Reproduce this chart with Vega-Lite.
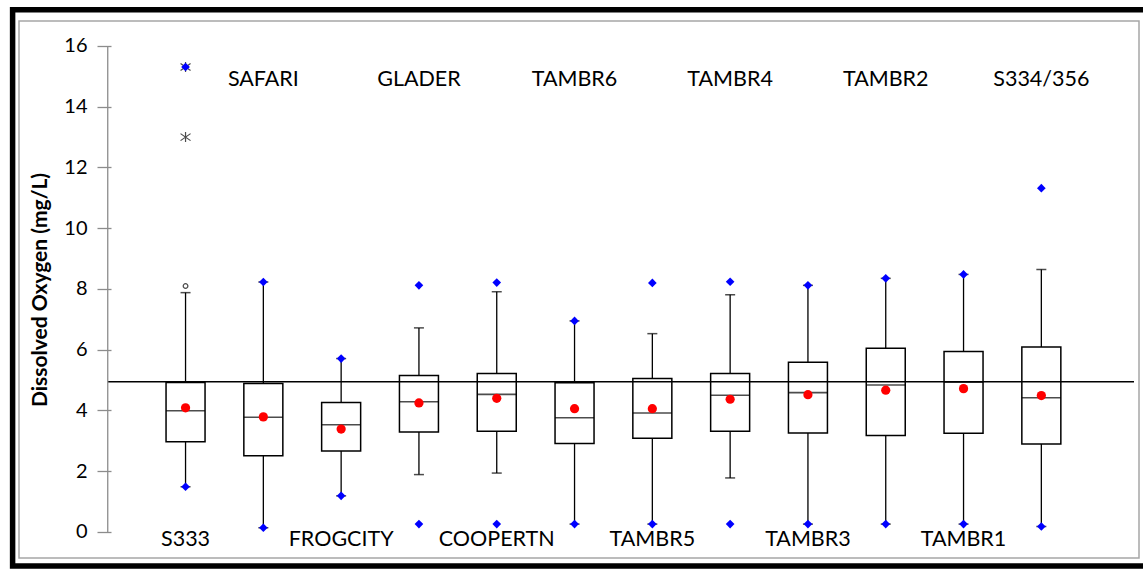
{
  "$schema": "https://vega.github.io/schema/vega-lite/v6.json",
  "autosize": {"type": "none"},
  "width": 1120,
  "height": 537,
  "padding": {"left": 19, "top": 21, "right": 4, "bottom": 11},
  "background": "white",
  "config": {
    "view": {"stroke": "#A6A6A6", "strokeWidth": 1.5},
    "font": "Lato",
    "axisY": {
      "offset": -92, "tickSize": 14, "domain": false, "grid": false,
      "tickColor": "#8C8C8C", "tickWidth": 1.3,
      "labelFont": "Lato", "labelFontSize": 20, "labelColor": "black", "labelPadding": 10,
      "titleFont": "Lato", "titleFontSize": 21, "titleFontWeight": "bold", "titleColor": "black", "titlePadding": 13
    }
  },
  "datasets": {
    "boxes": [
      {"site": "S333", "pos": 1, "q1": 2.97, "median": 3.99, "q3": 4.92, "mean": 4.09, "wlo": 1.49, "whi": 7.88, "min": 1.49, "max": 15.31},
      {"site": "SAFARI", "pos": 2, "q1": 2.51, "median": 3.78, "q3": 4.89, "mean": 3.79, "wlo": 0.14, "whi": 8.23, "min": 0.14, "max": 8.23},
      {"site": "FROGCITY", "pos": 3, "q1": 2.67, "median": 3.53, "q3": 4.26, "mean": 3.39, "wlo": 1.19, "whi": 5.71, "min": 1.19, "max": 5.71},
      {"site": "GLADER", "pos": 4, "q1": 3.29, "median": 4.29, "q3": 5.15, "mean": 4.25, "wlo": 1.89, "whi": 6.72, "min": 0.26, "max": 8.12},
      {"site": "COOPERTN", "pos": 5, "q1": 3.32, "median": 4.53, "q3": 5.22, "mean": 4.40, "wlo": 1.94, "whi": 7.91, "min": 0.26, "max": 8.21},
      {"site": "TAMBR6", "pos": 6, "q1": 2.91, "median": 3.76, "q3": 4.91, "mean": 4.06, "wlo": 0.26, "whi": 6.95, "min": 0.26, "max": 6.95},
      {"site": "TAMBR5", "pos": 7, "q1": 3.09, "median": 3.92, "q3": 5.05, "mean": 4.06, "wlo": 0.26, "whi": 6.53, "min": 0.26, "max": 8.20},
      {"site": "TAMBR4", "pos": 8, "q1": 3.32, "median": 4.50, "q3": 5.22, "mean": 4.37, "wlo": 1.78, "whi": 7.81, "min": 0.26, "max": 8.24},
      {"site": "TAMBR3", "pos": 9, "q1": 3.26, "median": 4.59, "q3": 5.59, "mean": 4.52, "wlo": 0.26, "whi": 8.12, "min": 0.26, "max": 8.12},
      {"site": "TAMBR2", "pos": 10, "q1": 3.18, "median": 4.84, "q3": 6.05, "mean": 4.67, "wlo": 0.26, "whi": 8.35, "min": 0.26, "max": 8.35},
      {"site": "TAMBR1", "pos": 11, "q1": 3.25, "median": 4.93, "q3": 5.94, "mean": 4.72, "wlo": 0.26, "whi": 8.48, "min": 0.26, "max": 8.48},
      {"site": "S334/356", "pos": 12, "q1": 2.90, "median": 4.42, "q3": 6.09, "mean": 4.49, "wlo": 0.18, "whi": 8.64, "min": 0.18, "max": 11.32}
    ],
    "outliers": [
      {"site": "S333", "pos": 1, "value": 8.1, "kind": "mild"},
      {"site": "S333", "pos": 1, "value": 13.0, "kind": "extreme"},
      {"site": "S333", "pos": 1, "value": 15.31, "kind": "extreme"}
    ],
    "refs": [
      {"name": "standard", "value": 4.95}
    ]
  },
  "layer": [
    {
      "data": {"name": "refs"},
      "mark": {"type": "rect", "filled": false, "stroke": "black", "strokeWidth": 5.5, "clip": false},
      "encoding": {
        "x": {"datum": -1.2229, "type": "quantitative", "scale": {"domain": [-1.0764, 13.191], "nice": false, "zero": false}, "axis": null},
        "x2": {"datum": 13.45},
        "y": {"datum": 17.19, "type": "quantitative", "scale": {"domain": [-0.856, 16.823], "nice": false, "zero": false}, "title": "Dissolved Oxygen (mg/L)", "axis": {"values": [0, 2, 4, 6, 8, 10, 12, 14, 16]}},
        "y2": {"datum": -1.12}
      }
    },
    {
      "data": {"name": "boxes"},
      "mark": {"type": "rule", "stroke": "black", "strokeWidth": 1.3},
      "encoding": {"x": {"field": "pos", "type": "quantitative"}, "y": {"field": "q3", "type": "quantitative", "title": "Dissolved Oxygen (mg/L)", "axis": {"values": [0, 2, 4, 6, 8, 10, 12, 14, 16]}}, "y2": {"field": "whi"}}
    },
    {
      "data": {"name": "boxes"},
      "mark": {"type": "rule", "stroke": "black", "strokeWidth": 1.3},
      "encoding": {"x": {"field": "pos", "type": "quantitative"}, "y": {"field": "wlo", "type": "quantitative", "title": "Dissolved Oxygen (mg/L)", "axis": {"values": [0, 2, 4, 6, 8, 10, 12, 14, 16]}}, "y2": {"field": "q1"}}
    },
    {
      "data": {"name": "boxes"},
      "mark": {"type": "tick", "orient": "horizontal", "size": 10, "thickness": 1.5, "color": "black"},
      "encoding": {"x": {"field": "pos", "type": "quantitative"}, "y": {"field": "whi", "type": "quantitative", "title": "Dissolved Oxygen (mg/L)", "axis": {"values": [0, 2, 4, 6, 8, 10, 12, 14, 16]}}}
    },
    {
      "data": {"name": "boxes"},
      "mark": {"type": "tick", "orient": "horizontal", "size": 10, "thickness": 1.5, "color": "black"},
      "encoding": {"x": {"field": "pos", "type": "quantitative"}, "y": {"field": "wlo", "type": "quantitative", "title": "Dissolved Oxygen (mg/L)", "axis": {"values": [0, 2, 4, 6, 8, 10, 12, 14, 16]}}}
    },
    {
      "data": {"name": "boxes"},
      "mark": {"type": "bar", "width": 39, "fill": "white", "stroke": "black", "strokeWidth": 1.5},
      "encoding": {"x": {"field": "pos", "type": "quantitative"}, "y": {"field": "q1", "type": "quantitative", "title": "Dissolved Oxygen (mg/L)", "axis": {"values": [0, 2, 4, 6, 8, 10, 12, 14, 16]}}, "y2": {"field": "q3"}}
    },
    {
      "data": {"name": "boxes"},
      "mark": {"type": "tick", "orient": "horizontal", "size": 39, "thickness": 1.6, "color": "black"},
      "encoding": {"x": {"field": "pos", "type": "quantitative"}, "y": {"field": "median", "type": "quantitative", "title": "Dissolved Oxygen (mg/L)", "axis": {"values": [0, 2, 4, 6, 8, 10, 12, 14, 16]}}}
    },
    {
      "data": {"name": "refs"},
      "mark": {"type": "rule", "stroke": "black", "strokeWidth": 1.5},
      "encoding": {
        "x": {"datum": 0, "type": "quantitative"},
        "x2": {"datum": 13.191},
        "y": {"field": "value", "type": "quantitative", "title": "Dissolved Oxygen (mg/L)", "axis": {"values": [0, 2, 4, 6, 8, 10, 12, 14, 16]}}
      }
    },
    {
      "data": {"name": "refs"},
      "mark": {"type": "rule", "stroke": "#8C8C8C", "strokeWidth": 1.3},
      "encoding": {
        "x": {"datum": 0, "type": "quantitative"},
        "y": {"datum": 0, "type": "quantitative", "title": "Dissolved Oxygen (mg/L)", "axis": {"values": [0, 2, 4, 6, 8, 10, 12, 14, 16]}},
        "y2": {"datum": 16}
      }
    },
    {
      "data": {"name": "outliers"},
      "transform": [{"filter": "datum.kind === 'mild'"}],
      "mark": {"type": "point", "shape": "circle", "filled": false, "stroke": "black", "strokeWidth": 1.2, "size": 22},
      "encoding": {"x": {"field": "pos", "type": "quantitative"}, "y": {"field": "value", "type": "quantitative", "title": "Dissolved Oxygen (mg/L)", "axis": {"values": [0, 2, 4, 6, 8, 10, 12, 14, 16]}}}
    },
    {
      "data": {"name": "outliers"},
      "transform": [{"filter": "datum.kind === 'extreme'"}],
      "mark": {"type": "point", "shape": "M-1,-0.7L1,0.7M-1,0.7L1,-0.7M0,-1L0,1", "filled": false, "stroke": "black", "strokeWidth": 1.2, "size": 100},
      "encoding": {"x": {"field": "pos", "type": "quantitative"}, "y": {"field": "value", "type": "quantitative", "title": "Dissolved Oxygen (mg/L)", "axis": {"values": [0, 2, 4, 6, 8, 10, 12, 14, 16]}}}
    },
    {
      "data": {"name": "boxes"},
      "mark": {"type": "point", "shape": "diamond", "filled": true, "color": "#0000FF", "opacity": 1, "size": 75},
      "encoding": {"x": {"field": "pos", "type": "quantitative"}, "y": {"field": "max", "type": "quantitative", "title": "Dissolved Oxygen (mg/L)", "axis": {"values": [0, 2, 4, 6, 8, 10, 12, 14, 16]}}}
    },
    {
      "data": {"name": "boxes"},
      "mark": {"type": "point", "shape": "diamond", "filled": true, "color": "#0000FF", "opacity": 1, "size": 75},
      "encoding": {"x": {"field": "pos", "type": "quantitative"}, "y": {"field": "min", "type": "quantitative", "title": "Dissolved Oxygen (mg/L)", "axis": {"values": [0, 2, 4, 6, 8, 10, 12, 14, 16]}}}
    },
    {
      "data": {"name": "boxes"},
      "mark": {"type": "circle", "color": "#FF0000", "opacity": 1, "size": 85},
      "encoding": {"x": {"field": "pos", "type": "quantitative"}, "y": {"field": "mean", "type": "quantitative", "title": "Dissolved Oxygen (mg/L)", "axis": {"values": [0, 2, 4, 6, 8, 10, 12, 14, 16]}}}
    },
    {
      "data": {"name": "boxes"},
      "transform": [{"filter": {"field": "site", "oneOf": ["SAFARI", "GLADER", "TAMBR6", "TAMBR4", "TAMBR2", "S334/356"]}}],
      "mark": {"type": "text", "font": "Lato", "fontSize": 21.5, "color": "black", "baseline": "alphabetic", "align": "center"},
      "encoding": {
        "x": {"field": "pos", "type": "quantitative"},
        "y": {"datum": 14.68, "type": "quantitative", "title": "Dissolved Oxygen (mg/L)", "axis": {"values": [0, 2, 4, 6, 8, 10, 12, 14, 16]}},
        "text": {"field": "site"}
      }
    },
    {
      "data": {"name": "boxes"},
      "transform": [{"filter": {"field": "site", "oneOf": ["S333", "FROGCITY", "COOPERTN", "TAMBR5", "TAMBR3", "TAMBR1"]}}],
      "mark": {"type": "text", "font": "Lato", "fontSize": 21.5, "color": "black", "baseline": "alphabetic", "align": "center"},
      "encoding": {
        "x": {"field": "pos", "type": "quantitative"},
        "y": {"datum": -0.46, "type": "quantitative", "title": "Dissolved Oxygen (mg/L)", "axis": {"values": [0, 2, 4, 6, 8, 10, 12, 14, 16]}},
        "text": {"field": "site"}
      }
    }
  ]
}
